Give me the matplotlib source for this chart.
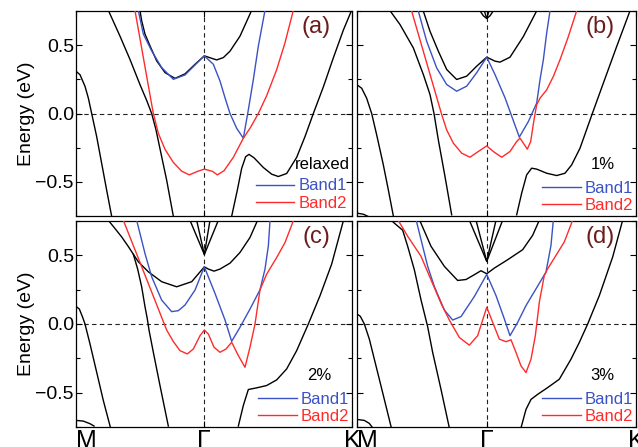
import numpy as np
import matplotlib
matplotlib.use('Agg')
import matplotlib.pyplot as plt
from matplotlib.ticker import MultipleLocator

plt.rcParams['font.family'] = ['Liberation Sans', 'DejaVu Sans']

BLUE = '#3a52c4'
RED = '#ff2b2b'
TAG = '#6b1d1d'
G = 0.465   # position of Gamma on the M-Gamma-K path

# ---------------- panel (a) relaxed ----------------
a_m_k = [0, .0145, .0326, .0447, .0568, .0749, .0930, .1111, .1292]
a_m_e = [.309, .284, .199, .113, 0, -.169, -.365, -.561, -.752]
a_line_k = [.1171, .1594, .1957, .2319, .2560, .2742, .2899, .3104, .3285, .3527]
a_line_e = [.755, .566, .395, .211, .096, 0, -.120, -.316, -.488, -.752]
a_up_k = [.2319, .2379, .2500, .2681, .2923, .3225, .3587, .3949, .4312, .465, .4915, .5097, .5338, .5580, .5942, .6365]
a_up_e = [.752, .679, .581, .495, .385, .299, .257, .290, .360, .422, .404, .392, .409, .456, .566, .755]
a_k_k = [.5640, .5845, .6002, .6147, .6268, .6449, .6787, .7089, .7331, .7633, .7995, .8297, .8599, .8961, .9324, .9686, 1.0]
a_k_e = [-.752, -.561, -.402, -.316, -.299, -.324, -.395, -.444, -.461, -.439, -.321, -.169, 0, .194, .407, .610, .762]
a_b1_k = [.2258, .2440, .2742, .3104, .3527, .3949, .4312, .465, .4976, .5217, .5399, .5580, .5821, .6063, .6244, .6425, .6606, .6848]
a_b1_e = [.752, .581, .458, .336, .250, .282, .355, .422, .360, .238, .115, 0, -.108, -.181, .027, .248, .493, .755]
a_b2_k = [.2138, .2319, .2500, .2681, .2802, .2983, .3225, .3527, .3829, .4106, .4396, .465, .4952, .5121, .5362, .5700, .6063, .6329, .6606, .6908, .7271, .7572, .7874]
a_b2_e = [.752, .547, .341, .135, 0, -.145, -.262, -.358, -.422, -.449, -.424, -.407, -.424, -.449, -.419, -.321, -.181, -.100, 0, .130, .321, .517, .755]

# ---------------- panel (b) 1% ----------------
b_m_k = [0, .0167, .0346, .0526, .0705, .0944, .1123, .1302]
b_m_e = [.210, .185, .112, 0, -.156, -.376, -.559, -.749]
b_arc_k = [0, .0227, .0406]
b_arc_e = [-.729, -.737, -.754]
b_line_k = [.1159, .1541, .2019, .2378, .2616, .2760, .2915, .3154, .3393]
b_line_e = [.759, .651, .480, .285, .139, 0, -.193, -.461, -.741]
b_up_k = [.2378, .2616, .2915, .3214, .3572, .3931, .4289, .465, .4946, .5125, .5484, .5962, .6440]
b_up_e = [.749, .602, .456, .322, .249, .273, .346, .412, .383, .376, .412, .563, .751]
b_cone_k = [.4409, .4528, .465, .4767, .4887]
b_cone_e = [.751, .715, .695, .715, .751]
b_cone2_k = [.4564, .465, .4731]
b_cone2_e = [.751, .695, .751]
b_k_k = [.5723, .5902, .6081, .6260, .6440, .6798, .7157, .7455, .7694, .7993, .8435, .8829, .9307, .9785]
b_k_e = [-.741, -.583, -.449, -.400, -.407, -.437, -.454, -.437, -.376, -.254, 0, .222, .490, .751]
b_b1_k = [.2198, .2497, .2855, .3214, .3572, .3931, .4289, .465, .4946, .5305, .5484, .5818, .6141, .6440, .6559, .6679, .6798, .6918]
b_b1_e = [.749, .529, .334, .212, .163, .200, .298, .412, .285, .115, .015, -.173, -.059, .076, .246, .393, .588, .751]
b_b2_k = [.1959, .2497, .3035, .3214, .3453, .3751, .4050, .4349, .465, .4886, .5185, .5484, .5723, .5842, .5962, .6105, .6225, .6344, .6440, .6559, .6798, .7037, .7276, .7575, .7873]
b_b2_e = [.749, .371, -.007, -.120, -.217, -.290, -.320, -.278, -.237, -.278, -.320, -.278, -.205, -.180, -.217, -.261, -.205, -.046, .063, .112, .173, .271, .393, .563, .751]

# ---------------- panel (c) 2% ----------------
c_m_k = [0, .0121, .0242, .0326, .0507, .0749, .0990, .1244]
c_m_e = [.128, .109, .048, 0, -.145, -.351, -.557, -.751]
c_arc_k = [0, .0266, .0507, .0652]
c_arc_e = [-.702, -.707, -.726, -.743]
c_up_k = [.1171, .1413, .1655, .1896, .2077, .2258, .2621, .3104, .3647, .4191, .465, .4795, .5000, .5217, .5580, .5942, .6304, .6570]
c_up_e = [.755, .695, .634, .564, .508, .453, .380, .308, .271, .308, .416, .400, .385, .400, .443, .521, .630, .751]
c_low_k = [.2077, .2234, .2379, .2500, .2585, .2645, .2802, .3043, .3345]
c_low_e = [.508, .400, .271, .126, .036, -.044, -.206, -.448, -.743]
c_cone_k = [.4130, .465, .5157]
c_cone_e = [.755, .506, .755]
c_cone2_k = [.4372, .465, .4855]
c_cone2_e = [.755, .506, .755]
c_k_k = [.5882, .6063, .6244, .6546, .6908, .7271, .7633, .7995, .8418, .8841, .9263, .9686]
c_k_e = [-.743, -.593, -.477, -.465, -.448, -.407, -.327, -.194, 0, .206, .436, .751]
c_b1_k = [.2198, .2500, .2742, .3104, .3466, .3708, .3949, .4312, .465, .5036, .5399, .5640, .5942, .6304, .6667, .6848, .6969, .7029]
c_b1_e = [.755, .513, .344, .174, .090, .097, .138, .247, .416, .223, .029, -.126, -.024, .109, .249, .400, .569, .751]
c_b2_k = [.1715, .2500, .3285, .3527, .3768, .4034, .4251, .4493, .465, .4795, .5000, .5217, .5435, .5640, .5882, .6123, .6304, .6486, .6667, .6908, .7271, .7572, .7874]
c_b2_e = [.755, .356, -.044, -.128, -.194, -.218, -.182, -.085, -.044, -.073, -.169, -.206, -.182, -.133, -.230, -.315, -.169, 0, .249, .363, .484, .593, .751]

# ---------------- panel (d) 3% ----------------
d_m_k = [0, .0119, .0263, .0442, .0621, .0860, .1039, .1231]
d_m_e = [.073, .056, 0, -.110, -.256, -.451, -.598, -.756]
d_arc_k = [0, .0263, .0442, .0562]
d_arc_e = [-.695, -.702, -.724, -.756]
d_line_k = [.1219, .1398, .1637, .1816, .2055, .2294, .2533, .2712, .3011, .3309]
d_line_e = [.756, .724, .683, .566, .395, .176, -.020, -.207, -.476, -.756]
d_up_k = [.2234, .2652, .3130, .3608, .3907, .4205, .4444, .465, .4922, .5400, .5938, .6296, .6535]
d_up_e = [.761, .566, .420, .317, .324, .359, .388, .366, .407, .468, .541, .646, .756]
d_cone_k = [.4026, .465, .5221]
d_cone_e = [.756, .456, .756]
d_cone2_k = [.4265, .465, .4982]
d_cone2_e = [.756, .456, .756]
d_k_k = [.5878, .6057, .6237, .6476, .6834, .7252, .7670, .7969, .8268, .8686, .9164, .9522]
d_k_e = [-.756, -.622, -.549, -.512, -.463, -.402, -.256, -.134, 0, .207, .488, .756]
d_b1_k = [.2115, .2294, .2533, .2772, .3130, .3429, .3728, .4205, .465, .4982, .5281, .5484, .5759, .6057, .6416, .6774, .6953, .7037]
d_b1_e = [.761, .615, .420, .273, .102, .029, .054, .200, .361, .207, .037, -.085, .012, .134, .256, .378, .573, .756]
d_b2_k = [.1458, .1816, .2294, .2652, .3011, .3309, .3668, .4026, .4325, .465, .4863, .5102, .5341, .5520, .5699, .5878, .6057, .6237, .6392, .6535, .6714, .6834, .7133, .7431, .7730]
d_b2_e = [.761, .639, .493, .322, .151, .029, -.098, -.154, -.085, .122, .012, -.110, -.129, -.115, -.207, -.305, -.354, -.256, -.085, .159, .354, .402, .500, .598, .756]

tags = ['(a)', '(b)', '(c)', '(d)']
strains = ['relaxed', '1%', '2%', '3%']
kpath_labels = ['M', 'Γ', 'K']

fig = plt.figure(figsize=(6.38, 4.47), dpi=100)
ax_a = fig.add_axes([76/638, 1-216/447, 276/638, 205/447])
ax_b = fig.add_axes([357/638, 1-216/447, 279/638, 205/447])
ax_c = fig.add_axes([76/638, 1-427/447, 276/638, 206/447])
ax_d = fig.add_axes([357/638, 1-427/447, 279/638, 206/447])

panels = [
    (ax_a, [(a_m_k, a_m_e), (a_line_k, a_line_e), (a_up_k, a_up_e), (a_k_k, a_k_e)],
     (a_b1_k, a_b1_e), (a_b2_k, a_b2_e)),
    (ax_b, [(b_m_k, b_m_e), (b_arc_k, b_arc_e), (b_line_k, b_line_e), (b_up_k, b_up_e),
            (b_cone_k, b_cone_e), (b_cone2_k, b_cone2_e), (b_k_k, b_k_e)],
     (b_b1_k, b_b1_e), (b_b2_k, b_b2_e)),
    (ax_c, [(c_m_k, c_m_e), (c_arc_k, c_arc_e), (c_up_k, c_up_e), (c_low_k, c_low_e),
            (c_cone_k, c_cone_e), (c_cone2_k, c_cone2_e), (c_k_k, c_k_e)],
     (c_b1_k, c_b1_e), (c_b2_k, c_b2_e)),
    (ax_d, [(d_m_k, d_m_e), (d_arc_k, d_arc_e), (d_line_k, d_line_e), (d_up_k, d_up_e),
            (d_cone_k, d_cone_e), (d_cone2_k, d_cone2_e), (d_k_k, d_k_e)],
     (d_b1_k, d_b1_e), (d_b2_k, d_b2_e)),
]

for i, (ax, blacks, b1, b2) in enumerate(panels):
    ax.axhline(0, color='#222222', lw=0.8, ls=(0, (4, 3)), zorder=1)
    ax.axvline(G, color='#222222', lw=0.8, ls=(0, (4, 3)), zorder=1)
    for k, e in blacks:
        ax.plot(k, e, color='k', lw=1.0, zorder=2)
    l1, = ax.plot(b1[0], b1[1], color=BLUE, lw=1.0, zorder=3)
    l2, = ax.plot(b2[0], b2[1], color=RED, lw=1.0, zorder=3)

    ax.set_xlim(0, 1)
    ax.set_ylim(-0.75, 0.75)
    ax.yaxis.set_major_locator(MultipleLocator(0.5))
    ax.yaxis.set_minor_locator(MultipleLocator(0.25))
    ax.set_xticks([0, G, 1])
    ax.tick_params(which='both', direction='in', top=True, right=True,
                   labelsize=14, pad=1.5)
    ax.tick_params(which='major', length=4, width=0.8)
    ax.tick_params(which='minor', length=3, width=0.8)
    for s in ax.spines.values():
        s.set_linewidth(0.9)

    if i in (0, 2):
        ax.set_ylabel('Energy (eV)', fontsize=14)
        ax.yaxis.set_label_coords(-0.15, 0.5)
    else:
        ax.set_yticklabels([])
    if i in (2, 3):
        ax.set_xticklabels(kpath_labels, fontsize=18)
        ax.tick_params(axis='x', pad=1.5)
        ax.get_xticklabels()[0].set_ha('left')
    else:
        ax.set_xticklabels([])

    ax.text(0.87, 0.92, tags[i], transform=ax.transAxes, fontsize=17,
            color=TAG, ha='center', va='center')
    ax.text(0.894 if i == 0 else 0.88, 0.25, strains[i], transform=ax.transAxes,
            fontsize=12, ha='center', va='center')
    ax.legend([l1, l2], ['Band1', 'Band2'], loc='lower right', frameon=False,
              fontsize=12, handlelength=2.3, handletextpad=0.25,
              labelspacing=0.15, borderaxespad=0.15 if i == 0 else 0.02,
              borderpad=0.15, labelcolor='linecolor')

fig.savefig('out.png', dpi=100)
